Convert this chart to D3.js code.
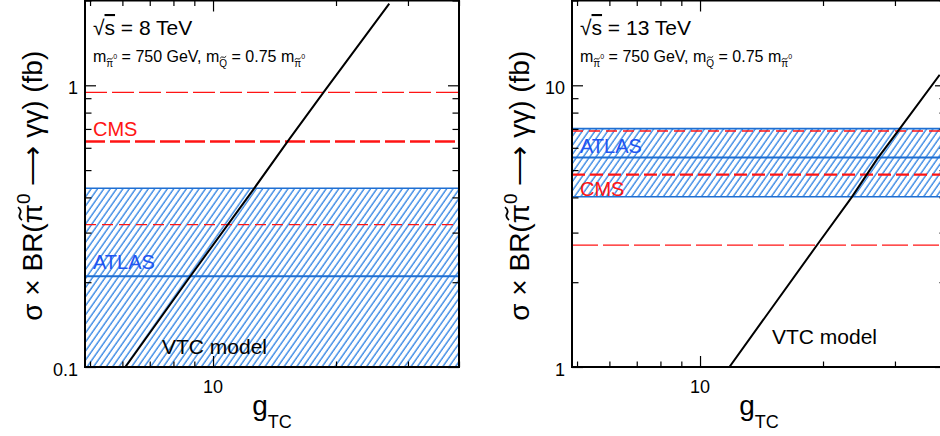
<!DOCTYPE html>
<html><head><meta charset="utf-8">
<script src="https://cdn.jsdelivr.net/npm/d3@7/dist/d3.min.js"></script>
<style>
body{margin:0;background:#fff}
svg{display:block}
text{font-family:"Liberation Sans",Arial,Helvetica,sans-serif;fill:#000}
</style>
</head><body>
<svg id="c" width="940" height="436"></svg>
<script>
// ---------------- data ----------------
const energies = ["8", "13"];
const xDomain = [4.86, 40];
const xMajorTicks = [10];
const xMinorTicks = [5, 6, 7, 8, 9, 20, 30, 40];
const yDomain8 = [0.1, 2];
const yMajor8 = [0.1, 1];
const yMinor8 = [0.2, 0.3, 0.4, 0.5, 0.6, 0.7, 0.8, 0.9, 2];
const yDomain13 = [1, 20];
const yMajor13 = [1, 10];
const yMinor13 = [2, 3, 4, 5, 6, 7, 8, 9, 20];
// CMS horizontal lines (fb)
const cms8 = [0.944, 0.632, 0.32];
const cms13 = [6.88, 4.82, 2.71];
// ATLAS band: low, central, high (fb)
const atlas8 = [0.05, 0.21, 0.431];
const atlas13 = [4.02, 5.54, 7.02];
// VTC model curve (g_TC, sigma x BR in fb)
const vtc8G = [6.1, 8.8, 12.6, 15.2, 18.6, 27.0];
const vtc8S = [0.1, 0.21, 0.43, 0.63, 0.94, 1.95];
const vtc13G = [11.8, 19.3, 23.5, 27.2, 30.8, 38.6];
const vtc13S = [1.0, 2.7, 4.0, 5.5, 7.0, 10.9];

// ---------------- styles ----------------
const RED = "#ff1414", BLUE = "#1f6fd2", HATCH = "#2a7fe2", TXTBLUE = "#1f55f2";
const cmsStyle8 = [{w:1.4, d:"22,5"}, {w:2.4, d:"20,5"}, {w:1.2, d:"11,6"}];
const cmsStyle13 = [{w:1.4, d:"11,6"}, {w:2.2, d:"13,5"}, {w:1.2, d:"26,5"}];

const svg = d3.select("#c");
const defs = svg.append("defs");
const pat = defs.append("pattern").attr("id","hatch").attr("patternUnits","userSpaceOnUse")
  .attr("width",5.2).attr("height",10).attr("patternTransform","rotate(35)");
pat.append("line").attr("x1",1).attr("x2",1).attr("y1",0).attr("y2",10)
  .attr("stroke",HATCH).attr("stroke-width",1.3);

// draw a small tilde (path) above character idx of a text element
function addTilde(parent, textSel, idx, w, h, lift, sw) {
  const ext = textSel.node().getExtentOfChar(idx);
  const cx = ext.x + ext.width / 2, cy = ext.y + lift;
  parent.append("path")
    .attr("d", `M${cx - w/2},${cy + h/2} Q${cx - w/4},${cy - h/2} ${cx},${cy} T${cx + w/2},${cy - h/2}`)
    .attr("fill", "none").attr("stroke", "#000").attr("stroke-width", sw);
}

const panelsCfg = [
  {left:85, yDom:yDomain8, yMaj:yMajor8, yMin:yMinor8, cms:cms8, cmsSt:cmsStyle8, atlas:atlas8,
   vG:vtc8G, vS:vtc8S, e:energies[0],
   lab:{cms:[8,136], atlas:[8,269], vtc:[77,354]}, atlasEdges:[false,true,true]},
  {left:572, yDom:yDomain13, yMaj:yMajor13, yMin:yMinor13, cms:cms13, cmsSt:cmsStyle13, atlas:atlas13,
   vG:vtc13G, vS:vtc13S, e:energies[1],
   lab:{cms:[8,196], atlas:[8,153], vtc:[200,344]}, atlasEdges:[true,true,true]}
];
const W = 374, TOP = 0.5, H = 366.5;

panelsCfg.forEach((p, i) => {
  const x = d3.scaleLog().domain(xDomain).range([p.left, p.left + W]);
  const y = d3.scaleLog().domain(p.yDom).range([TOP + H, TOP]);
  const g = svg.append("g");
  const cid = "clip" + i;
  defs.append("clipPath").attr("id", cid).append("rect")
    .attr("x", p.left).attr("y", TOP).attr("width", W).attr("height", H);
  const plot = g.append("g").attr("clip-path", `url(#${cid})`);

  // ATLAS band
  plot.append("rect").attr("x", p.left).attr("width", W)
    .attr("y", y(p.atlas[2])).attr("height", y(p.atlas[0]) - y(p.atlas[2]))
    .attr("fill", "url(#hatch)");
  p.atlas.forEach((v, k) => {
    if (!p.atlasEdges[k]) return;
    plot.append("line").attr("x1", p.left).attr("x2", p.left + W)
      .attr("y1", y(v)).attr("y2", y(v))
      .attr("stroke", BLUE).attr("stroke-width", k === 1 ? 2 : 1.6);
  });
  // CMS lines
  p.cms.forEach((v, k) => {
    plot.append("line").attr("x1", p.left).attr("x2", p.left + W)
      .attr("y1", y(v)).attr("y2", y(v))
      .attr("stroke", RED).attr("stroke-width", p.cmsSt[k].w)
      .attr("stroke-dasharray", p.cmsSt[k].d);
  });
  // VTC model
  const line = d3.line().x(d => x(d[0])).y(d => y(d[1]));
  plot.append("path").datum(p.vG.map((gv, k) => [gv, p.vS[k]]))
    .attr("d", line).attr("fill", "none").attr("stroke", "#000").attr("stroke-width", 2);

  // axes ticks
  const bottomY = TOP + H;
  const axMaj = d3.axisBottom(x).tickValues(xMajorTicks).tickSize(-11).tickFormat("");
  const axMin = d3.axisBottom(x).tickValues(xMinorTicks).tickSize(-5.5).tickFormat("");
  const axMajT = d3.axisTop(x).tickValues(xMajorTicks).tickSize(-11).tickFormat("");
  const axMinT = d3.axisTop(x).tickValues(xMinorTicks).tickSize(-5.5).tickFormat("");
  const ayMaj = d3.axisLeft(y).tickValues(p.yMaj).tickSize(-11).tickFormat("");
  const ayMin = d3.axisLeft(y).tickValues(p.yMin).tickSize(-6.5).tickFormat("");
  const ayMajR = d3.axisRight(y).tickValues(p.yMaj).tickSize(-11).tickFormat("");
  const ayMinR = d3.axisRight(y).tickValues(p.yMin).tickSize(-6.5).tickFormat("");
  [[axMaj, `translate(0,${bottomY})`], [axMin, `translate(0,${bottomY})`],
   [axMajT, `translate(0,${TOP})`], [axMinT, `translate(0,${TOP})`],
   [ayMaj, `translate(${p.left},0)`], [ayMin, `translate(${p.left},0)`],
   [ayMajR, `translate(${p.left + W},0)`], [ayMinR, `translate(${p.left + W},0)`]
  ].forEach(([ax, tr]) => {
    const a = g.append("g").attr("transform", tr).call(ax);
    a.select(".domain").remove();
    a.selectAll(".tick line").attr("stroke", "#000").attr("stroke-width", 1.2);
  });

  // frame
  g.append("rect").attr("x", p.left).attr("y", TOP).attr("width", W).attr("height", H)
    .attr("fill", "none").attr("stroke", "#000").attr("stroke-width", 2);

  // tick labels
  xMajorTicks.forEach(t => {
    g.append("text").attr("x", x(t)).attr("y", bottomY + 26).attr("text-anchor", "middle")
      .attr("font-size", 18).text(t);
  });
  p.yMaj.forEach(t => {
    g.append("text").attr("x", p.left - 7).attr("y", y(t) + 8.5).attr("text-anchor", "end")
      .attr("font-size", 18).text(t);
  });

  // axis titles
  const xt = g.append("text").attr("x", p.left + W / 2).attr("y", 415).attr("text-anchor", "middle")
    .attr("font-size", 28);
  xt.append("tspan").text("g");
  xt.append("tspan").attr("font-size", 18).attr("dy", 13).text("TC");

  const yg = g.append("g").attr("transform", `translate(${p.left - 43},${(TOP + bottomY) / 2 + 2}) rotate(-90)`);
  const yt = yg.append("text").attr("text-anchor", "middle").attr("font-size", 28);
  yt.append("tspan").text("\u03C3 \u00D7 BR(\u03C0");
  yt.append("tspan").attr("font-size", 19).attr("dy", -12).text("0");
  yt.append("tspan").attr("dy", 12).text(" \u27F6 \u03B3\u03B3) (fb)");
  addTilde(yg, yt, 7, 13, 4, 3, 1.8);

  // energy label
  const et = g.append("text").attr("x", p.left + 8).attr("y", 35).attr("font-size", 21);
  et.append("tspan").text("\u221A");
  et.append("tspan").attr("text-decoration", "overline").text("s");
  et.append("tspan").text(` = ${p.e} TeV`);

  // mass label
  const mt = g.append("text").attr("x", p.left + 8).attr("y", 62).attr("font-size", 16);
  mt.append("tspan").text("m");
  mt.append("tspan").attr("font-size", 10).attr("dy", 5).text("\u03C0");
  mt.append("tspan").attr("font-size", 7).attr("dy", -8).text("0");
  mt.append("tspan").attr("dy", 3).text(" = 750 GeV, m");
  mt.append("tspan").attr("font-size", 10).attr("dy", 5).text("Q");
  mt.append("tspan").attr("dy", -5).text(" = 0.75 m");
  mt.append("tspan").attr("font-size", 10).attr("dy", 5).text("\u03C0");
  mt.append("tspan").attr("font-size", 7).attr("dy", -8).text("0");
  // char indices: m(0) π(1) 0(2) " = 750 GeV, m"(3..15) Q(16) " = 0.75 m"(17..25) π(26)
  addTilde(g, mt, 1, 6, 2, 0.8, 0.9);
  addTilde(g, mt, 16, 6, 2, -0.8, 0.9);
  addTilde(g, mt, 26, 6, 2, 0.8, 0.9);

  // series labels
  g.append("text").attr("x", p.left + p.lab.cms[0]).attr("y", p.lab.cms[1])
    .attr("font-size", 20).style("fill", RED).text("CMS");
  g.append("text").attr("x", p.left + p.lab.atlas[0]).attr("y", p.lab.atlas[1])
    .attr("font-size", 20).style("fill", TXTBLUE).text("ATLAS");
  g.append("text").attr("x", p.left + p.lab.vtc[0]).attr("y", p.lab.vtc[1])
    .attr("font-size", 21).text("VTC model");
});
</script>
</body></html>
